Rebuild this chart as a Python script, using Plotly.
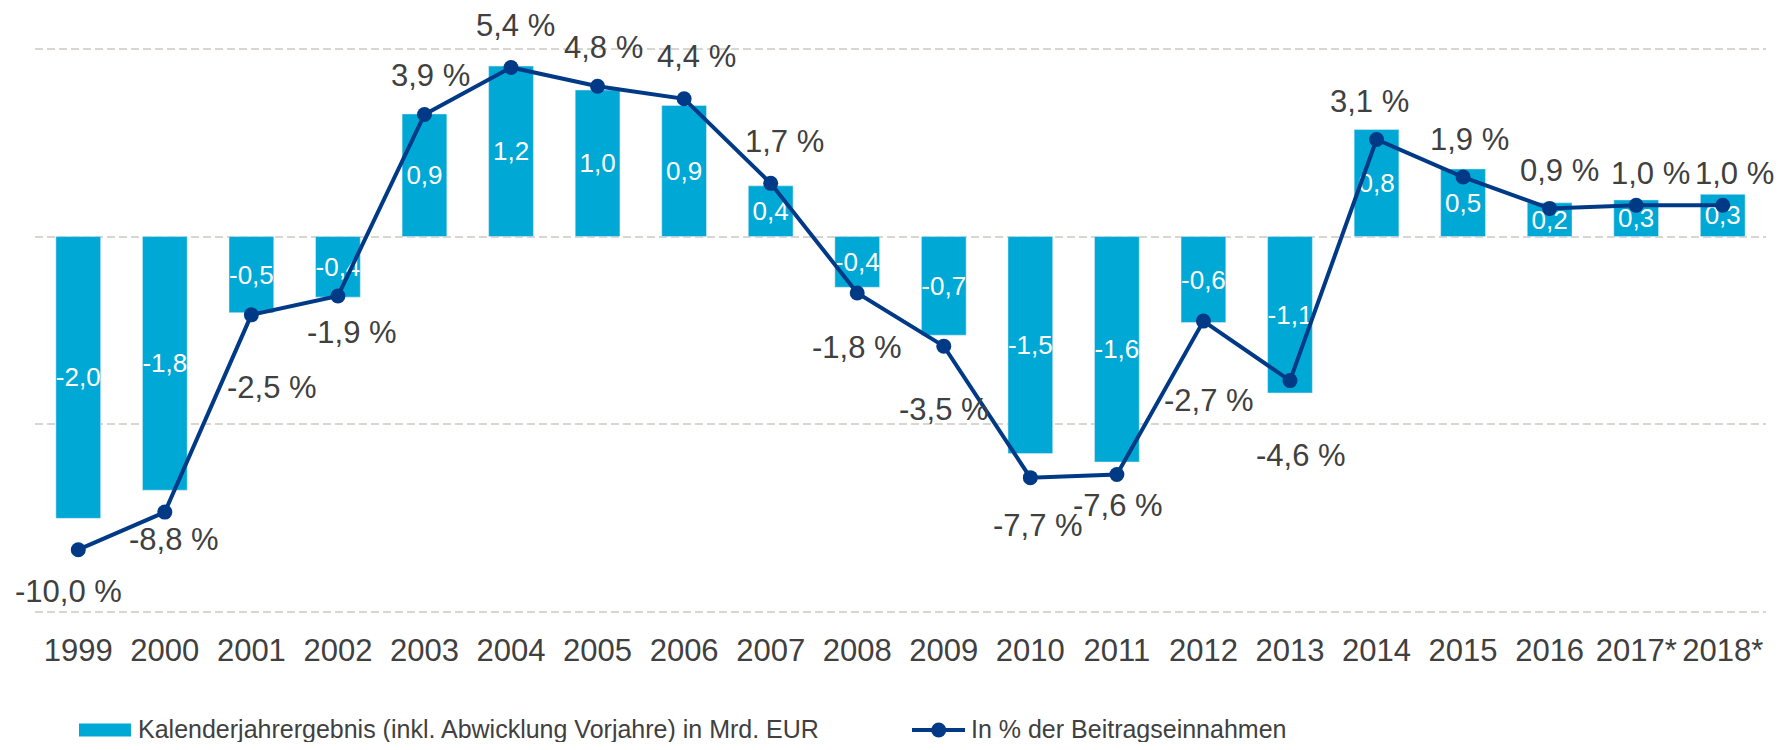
import plotly.graph_objects as go

# ---- data ----
years = ["1999", "2000", "2001", "2002", "2003", "2004", "2005", "2006", "2007", "2008",
         "2009", "2010", "2011", "2012", "2013", "2014", "2015", "2016", "2017*", "2018*"]
result_bn_eur = [-2.00, -1.80, -0.54, -0.43, 0.87, 1.21, 1.04, 0.93, 0.36, -0.36,
                 -0.70, -1.54, -1.60, -0.61, -1.11, 0.76, 0.48, 0.24, 0.26, 0.30]
pct_of_premiums = [-10.0, -8.8, -2.5, -1.9, 3.9, 5.4, 4.8, 4.4, 1.7, -1.8,
                   -3.5, -7.7, -7.6, -2.7, -4.6, 3.1, 1.9, 0.9, 1.0, 1.0]
bar_name = "Kalenderjahrergebnis (inkl. Abwicklung Vorjahre) in Mrd. EUR"
line_name = "In % der Beitragseinnahmen"

# ---- style ----
BAR_COLOR = "#00A8D6"
LINE_COLOR = "#003A87"
TEXT_COLOR = "#404040"
GRID_COLOR = "#D9D6D2"
FONT = "Liberation Sans, Arial, sans-serif"

# label offsets for the percentage labels (pixels, dx right, dy down)
label_dx = [-10, 9, 21, 14, 6, 4, 6, 12, 14, 0, 0, 8, 1, 6, 11, -7, 6, 10, 14, 12]
label_dy = [42, 27, 73, 36, -39, -42, -39, -42, -42, 55, 63, 48, 31, 79, 75, -38, -38, -38, -32, -32]

PAGE = 8  # default page margin around the figure
W, H = 1783 - 2 * PAGE, 750 - 2 * PAGE
ML, MR, MT, MB = 27, 9, 36, 125
PW, PH = W - ML - MR, H - MT - MB

def fmt(v, suffix=""):
    return f"{v:.1f}".replace(".", ",") + suffix

y2_range = [-12.15, 6.15]
y1_range = [y2_range[0] / 4.5, y2_range[1] / 4.5]

fig = go.Figure()
fig.add_trace(go.Bar(
    x=years, y=result_bn_eur, name=bar_name, marker_color=BAR_COLOR,
    text=[fmt(v) for v in result_bn_eur], textposition="inside",
    insidetextanchor="middle", textangle=0, constraintext="none",
    textfont=dict(color="white", size=26, family=FONT),
    showlegend=False, yaxis="y",
))
fig.add_trace(go.Scatter(
    x=years, y=pct_of_premiums, name=line_name, mode="lines+markers",
    line=dict(color=LINE_COLOR, width=4), marker=dict(color=LINE_COLOR, size=15),
    showlegend=False, yaxis="y2",
))

annotations = []
for i, (v, dx, dy) in enumerate(zip(pct_of_premiums, label_dx, label_dy)):
    annotations.append(dict(
        x=i, y=v, xref="x", yref="y2", text=fmt(v, " %"), showarrow=False,
        xshift=dx, yshift=-dy, font=dict(size=31, color=TEXT_COLOR, family=FONT),
        xanchor="center", yanchor="middle",
    ))

def px_x(p):
    return (p - PAGE - ML) / PW

def px_y(p):
    return (H - MB - (p - PAGE)) / PH

# legend (manual, to match the original layout)
LEG_Y = 730
shapes = [
    dict(type="rect", xref="paper", yref="paper", x0=px_x(79), x1=px_x(131),
         y0=px_y(LEG_Y + 6.5), y1=px_y(LEG_Y - 6.5), fillcolor=BAR_COLOR, line=dict(width=0)),
    dict(type="line", xref="paper", yref="paper", x0=px_x(912), x1=px_x(965),
         y0=px_y(LEG_Y), y1=px_y(LEG_Y), line=dict(color=LINE_COLOR, width=4)),
    dict(type="circle", xref="paper", yref="paper", xsizemode="pixel", ysizemode="pixel",
         xanchor=px_x(938.7), yanchor=px_y(LEG_Y), x0=-7.5, x1=7.5, y0=-7.5, y1=7.5,
         fillcolor=LINE_COLOR, line=dict(width=0)),
]
annotations.append(dict(x=px_x(136), y=px_y(LEG_Y - 1), xref="paper", yref="paper", text=bar_name,
                        showarrow=False, xanchor="left", yanchor="middle",
                        font=dict(size=25, color=TEXT_COLOR, family=FONT)))
annotations.append(dict(x=px_x(969), y=px_y(LEG_Y - 1), xref="paper", yref="paper", text=line_name,
                        showarrow=False, xanchor="left", yanchor="middle",
                        font=dict(size=25, color=TEXT_COLOR, family=FONT)))

fig.update_layout(
    width=W, height=H,
    margin=dict(l=ML, r=MR, t=MT, b=MB, pad=0, autoexpand=False),
    paper_bgcolor="white", plot_bgcolor="white",
    font=dict(family=FONT, color=TEXT_COLOR),
    bargap=0.483, showlegend=False,
    xaxis=dict(type="category", range=[-0.5, len(years) - 0.5], automargin=False,
               tickfont=dict(size=31, color=TEXT_COLOR), showgrid=False,
               zeroline=False, showline=False, ticks="", ticklabelstandoff=12),
    yaxis=dict(range=y1_range, showgrid=False, zeroline=False, showticklabels=False,
               showline=False, automargin=False),
    yaxis2=dict(range=y2_range, overlaying="y", side="right", tickvals=[-12, -6, 0, 6],
                showgrid=True, gridcolor=GRID_COLOR, gridwidth=2, griddash="8px,4px",
                zeroline=False, showticklabels=False, showline=False, automargin=False),
    annotations=annotations, shapes=shapes,
)

fig.write_html("out.html")
